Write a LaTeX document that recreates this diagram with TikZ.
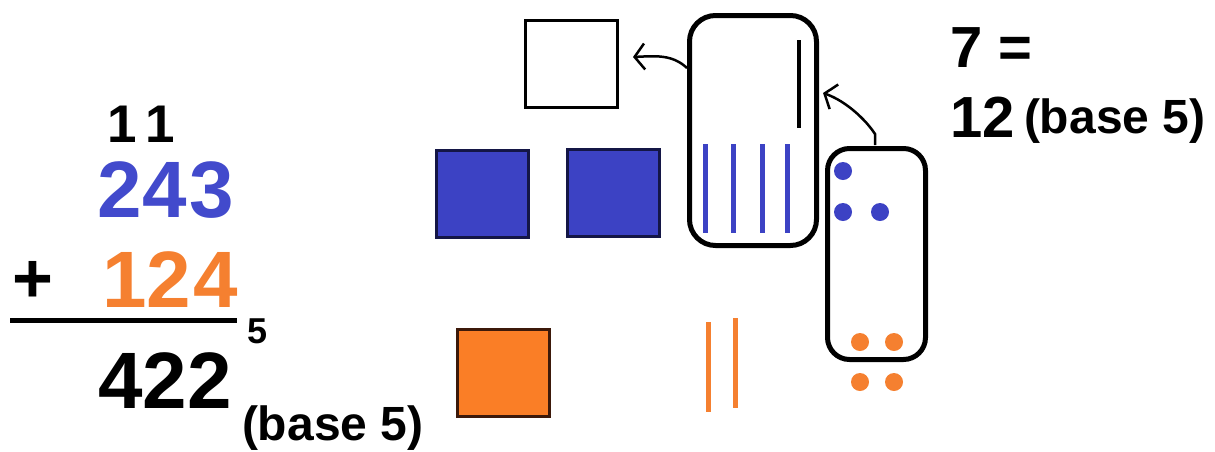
\documentclass[tikz,border=0pt]{standalone}
\usepackage{fontspec}
\setmainfont{Liberation Sans}
\usetikzlibrary{arrows.meta}
\definecolor{digitblue}{RGB}{66,74,204}
\definecolor{digitorange}{RGB}{245,128,48}
\definecolor{tileblue}{RGB}{60,66,196}
\definecolor{tileedge}{RGB}{20,22,70}
\definecolor{tileorange}{RGB}{250,126,38}
\definecolor{orangeedge}{RGB}{60,25,10}
\newcommand{\fsz}[1]{\fontsize{#1}{#1}\selectfont}
\begin{document}
\begin{tikzpicture}[x=1pt,y=-1pt,
  txt/.style={inner sep=0pt, outer sep=0pt, font=\bfseries},
  tile/.style={draw, line width=3pt, minimum width=92pt, minimum height=87pt, inner sep=0pt},
  holder/.style={draw, line width=5pt, rounded corners=26pt, inner sep=0pt},
  stick/.style={line width=5pt},
  bead/.style={circle, inner sep=0pt, minimum size=18pt},
  carry/.style={line width=2.5pt, -{Straight Barb[length=10pt, width=26pt, line width=2.5pt]}}
]
\useasboundingbox (0,0) rectangle (1215,451);

% column addition
\node[txt, anchor=base] (c1) at (141,142) {\fsz{53}1\kern9pt1};
\node[txt, anchor=base, text=digitblue] (top) at (166,217) {\fsz{80}24\kern3pt3};
\node[txt, anchor=base] (plus) at (33,302) {\fsz{70}+};
\node[txt, anchor=base, text=digitorange] (bot) at (170,307) {\fsz{80}12\kern2pt4};
\coordinate (ruleL) at (10,320);
\coordinate (ruleR) at (237,320);
\draw[line width=5pt] (ruleL) -- (ruleR);
\node[txt, anchor=base] (sub5) at (258,343) {\fsz{36}5};
\node[txt, anchor=base] (sum) at (165,408) {\fsz{80}422};
\node[txt, anchor=base west] (baseL) at (242,440) {\fsz{48}(base 5)};

% right-hand note
\node[txt, anchor=base west] (seven) at (950,67) {\fsz{58}7 =};
\node[txt, anchor=base west] (twelve) at (950,137) {\fsz{58}12};
\node[txt, anchor=base west] (baseR) at (1024,133) {\fsz{48}(base 5)};

% place-value tiles
\node[tile, fill=white] (w) at (571.5,64) {};
\node[tile, fill=tileblue, draw=tileedge] (b1) at (482,194) {};
\node[tile, fill=tileblue, draw=tileedge] (b2) at (613.5,192.5) {};
\node[tile, fill=tileorange, draw=orangeedge] (o1) at (503.5,373) {};

% holders
\node[holder, minimum width=127pt, minimum height=230pt] (tall) at (753,130.5) {};
\node[holder, rounded corners=22pt, minimum width=98pt, minimum height=211pt] (low) at (876.5,254) {};

% sticks in the tall holder
\draw[stick, draw=tileblue] (705,144) -- (705,233);
\draw[stick, draw=tileblue] (733,144) -- (733,233);
\draw[stick, draw=tileblue] (762,144) -- (762,233);
\draw[stick, draw=tileblue] (787,144) -- (787,233);
\draw[line width=4pt] (799,40) -- (799,128);

% orange sticks
\draw[stick, draw=digitorange] (708,322) -- (708,412);
\draw[stick, draw=digitorange] (735,318) -- (735,408);

% beads
\node[bead, fill=tileblue] (d1) at (843,171) {};
\node[bead, fill=tileblue] (d2) at (843,212) {};
\node[bead, fill=tileblue] (d3) at (880,212) {};
\node[bead, fill=digitorange] (e1) at (860,342) {};
\node[bead, fill=digitorange] (e2) at (894,342) {};
\node[bead, fill=digitorange] (e3) at (860,382) {};
\node[bead, fill=digitorange] (e4) at (894,382) {};

% carry arrows
\coordinate (a1s) at (687,68);
\coordinate (a1e) at (633,57);
\draw[carry] (a1s) .. controls (672,54) and (655,56) .. (a1e);
\coordinate (a2s) at (875,145);
\coordinate (a2m) at (875,134);
\coordinate (a2e) at (823,93);
\draw[carry] (a2s) -- (a2m) .. controls (866,120) and (846,101) .. (a2e);
\end{tikzpicture}
\end{document}
